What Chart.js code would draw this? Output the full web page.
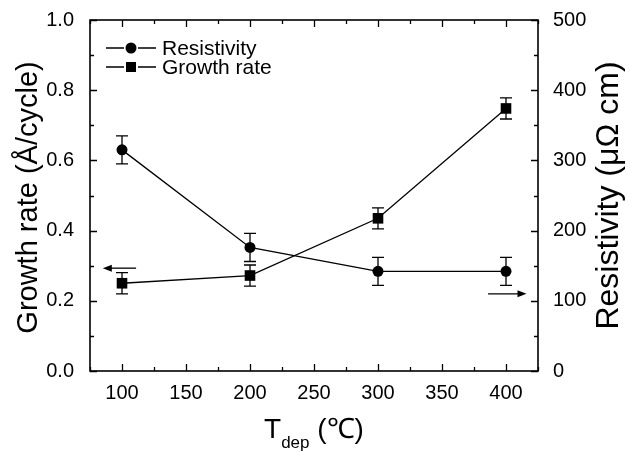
<!DOCTYPE html>
<html>
<head>
<meta charset="utf-8">
<script src="https://cdn.jsdelivr.net/npm/chart.js@4.4.1/dist/chart.umd.min.js"></script>
<style>
  html, body { margin: 0; padding: 0; background: #fff; }
  #wrap { width: 632px; height: 453px; }
</style>
</head>
<body>
<div id="wrap"><canvas id="chart" width="632" height="453"></canvas></div>
<script>
// Deposition temperature vs growth rate / resistivity
const temps = [100, 200, 300, 400];
const growthRate = [0.25, 0.272, 0.435, 0.748];
const growthErr = [0.03, 0.03, 0.03, 0.03];
const resistivity = [315, 176, 142, 142];
const resistErr = [20, 20, 20, 20];
const xTickLabels = [100, 150, 200, 250, 300, 350, 400];
const yTickLabels = ['0.0', '0.2', '0.4', '0.6', '0.8', '1.0'];
const y2TickLabels = ['0', '100', '200', '300', '400', '500'];

const FONT = "'Liberation Sans', Arial, Helvetica, sans-serif";

// error bars, frame, inner ticks, arrows, legend and titles
const decorPlugin = {
    id: 'decor',
    beforeDatasetsDraw(chart) {
        const ctx = chart.ctx;
        const x = chart.scales.x;
        ctx.save();
        ctx.strokeStyle = '#000';
        ctx.lineWidth = 1.3;
        const bars = [
            { vals: growthRate, err: growthErr, scale: chart.scales.y },
            { vals: resistivity, err: resistErr, scale: chart.scales.y2 }
        ];
        bars.forEach(b => {
            temps.forEach((t, i) => {
                const px = x.getPixelForValue(t);
                const top = b.scale.getPixelForValue(b.vals[i] + b.err[i]);
                const bot = b.scale.getPixelForValue(b.vals[i] - b.err[i]);
                ctx.beginPath();
                ctx.moveTo(px, top); ctx.lineTo(px, bot);
                ctx.moveTo(px - 6, top); ctx.lineTo(px + 6, top);
                ctx.moveTo(px - 6, bot); ctx.lineTo(px + 6, bot);
                ctx.stroke();
            });
        });
        ctx.restore();
    },
    afterDraw(chart) {
        const ctx = chart.ctx;
        const a = chart.chartArea;
        const xs = chart.scales.x, ys = chart.scales.y, y2s = chart.scales.y2;
        ctx.save();
        ctx.strokeStyle = '#000';
        ctx.fillStyle = '#000';

        // frame
        ctx.lineWidth = 1.6;
        ctx.strokeRect(a.left, a.top, a.right - a.left, a.bottom - a.top);

        // inner ticks
        ctx.lineWidth = 1.3;
        ctx.beginPath();
        for (let v = 75; v <= 425; v += 25) {
            const px = Math.round(xs.getPixelForValue(v)) + 0.5;
            const len = v % 50 === 0 ? 7 : 4;
            ctx.moveTo(px, a.bottom); ctx.lineTo(px, a.bottom - len);
            ctx.moveTo(px, a.top); ctx.lineTo(px, a.top + len);
        }
        for (let k = 0; k <= 10; k++) {
            const py = Math.round(ys.getPixelForValue(k / 10)) + 0.5;
            const len = k % 2 === 0 ? 7 : 4;
            ctx.moveTo(a.left, py); ctx.lineTo(a.left + len, py);
        }
        for (let k = 0; k <= 10; k++) {
            const py = Math.round(y2s.getPixelForValue(k * 50)) + 0.5;
            const len = k % 2 === 0 ? 7 : 4;
            ctx.moveTo(a.right, py); ctx.lineTo(a.right - len, py);
        }
        ctx.stroke();

        // axis arrows
        function arrow(x1, x2, py) {
            const p1 = xs.getPixelForValue(x1), p2 = xs.getPixelForValue(x2);
            const dir = Math.sign(p2 - p1);
            ctx.lineWidth = 1.3;
            ctx.beginPath();
            ctx.moveTo(p1, py); ctx.lineTo(p2 - dir * 6, py);
            ctx.stroke();
            ctx.beginPath();
            ctx.moveTo(p2, py);
            ctx.lineTo(p2 - dir * 9, py - 3.5);
            ctx.lineTo(p2 - dir * 9, py + 3.5);
            ctx.closePath();
            ctx.fill();
        }
        arrow(111, 85, ys.getPixelForValue(0.293));
        arrow(386, 416, y2s.getPixelForValue(110));

        // legend
        const rows = [
            { label: 'Resistivity', style: 'circle', y: a.top + 28 },
            { label: 'Growth rate', style: 'rect', y: a.top + 47 }
        ];
        ctx.font = '21px ' + FONT;
        ctx.textBaseline = 'middle';
        ctx.textAlign = 'left';
        rows.forEach(r => {
            const mx = a.left + 41;
            ctx.lineWidth = 1.3;
            ctx.beginPath();
            ctx.moveTo(a.left + 16, r.y); ctx.lineTo(mx - 7, r.y);
            ctx.moveTo(mx + 7, r.y); ctx.lineTo(a.left + 66, r.y);
            ctx.stroke();
            ctx.beginPath();
            if (r.style === 'circle') ctx.arc(mx, r.y, 5.5, 0, Math.PI * 2);
            else ctx.rect(mx - 5, r.y - 5, 10, 10);
            ctx.fill();
            ctx.fillText(r.label, a.left + 72, r.y + 1);
        });

        // axis titles
        ctx.textAlign = 'center';
        ctx.textBaseline = 'middle';
        const midY = (a.top + a.bottom) / 2;
        ctx.save();
        ctx.font = '29px ' + FONT;
        ctx.translate(29, midY + 2);
        ctx.rotate(-Math.PI / 2);
        ctx.fillText('Growth rate (Å/cycle)', 0, 0);
        ctx.restore();
        ctx.save();
        ctx.font = '32px ' + FONT;
        ctx.translate(609, midY);
        ctx.rotate(-Math.PI / 2);
        ctx.fillText('Resistivity (μΩ cm)', 0, 0);
        ctx.restore();

        // x title with subscript
        ctx.textAlign = 'left';
        ctx.textBaseline = 'alphabetic';
        const big = '28px ' + FONT, small = '17px ' + FONT;
        ctx.font = big; const wT = ctx.measureText('T').width;
        ctx.font = small; const wSub = ctx.measureText('dep').width;
        ctx.font = big; const wRest = ctx.measureText(' (℃)').width;
        let sx = (a.left + a.right) / 2 - (wT + wSub + wRest) / 2;
        const base = 438;
        ctx.font = big; ctx.fillText('T', sx, base); sx += wT;
        ctx.font = small; ctx.fillText('dep', sx, base + 10); sx += wSub;
        ctx.font = big; ctx.fillText(' (℃)', sx, base);
        ctx.restore();
    }
};

const ctx = document.getElementById('chart').getContext('2d');
new Chart(ctx, {
    type: 'line',
    data: {
        datasets: [{
            label: 'Resistivity',
            data: temps.map((t, i) => ({ x: t, y: resistivity[i] })),
            yAxisID: 'y2',
            borderColor: '#000',
            backgroundColor: '#000',
            borderWidth: 1.3,
            pointStyle: 'circle',
            pointRadius: 5.5,
            pointBorderWidth: 0,
            tension: 0
        }, {
            label: 'Growth rate',
            data: temps.map((t, i) => ({ x: t, y: growthRate[i] })),
            yAxisID: 'y',
            borderColor: '#000',
            backgroundColor: '#000',
            borderWidth: 1.3,
            pointStyle: 'rect',
            pointRadius: 7.5,
            pointBorderWidth: 0,
            tension: 0
        }]
    },
    options: {
        responsive: false,
        animation: false,
        layout: { padding: { top: 16, left: 0, right: 0, bottom: 0 } },
        plugins: {
            legend: { display: false },
            tooltip: { enabled: false }
        },
        scales: {
            x: {
                type: 'linear',
                min: 75,
                max: 425,
                afterBuildTicks: axis => { axis.ticks = xTickLabels.map(v => ({ value: v })); },
                afterFit: axis => { axis.height = 82; },
                grid: { display: false },
                border: { display: false },
                ticks: {
                    color: '#000',
                    padding: 2,
                    maxRotation: 0,
                    font: { family: FONT, size: 20 },
                    callback: v => String(v)
                }
            },
            y: {
                position: 'left',
                min: 0,
                max: 1,
                afterBuildTicks: axis => { axis.ticks = yTickLabels.map(s => ({ value: parseFloat(s) })); },
                afterFit: axis => { axis.width = 90; },
                grid: { display: false },
                border: { display: false },
                ticks: {
                    color: '#000',
                    padding: 8,
                    font: { family: FONT, size: 20 },
                    callback: (v, i) => yTickLabels[i]
                }
            },
            y2: {
                position: 'right',
                min: 0,
                max: 500,
                afterBuildTicks: axis => { axis.ticks = y2TickLabels.map(s => ({ value: parseFloat(s) })); },
                afterFit: axis => { axis.width = 94; },
                grid: { display: false },
                border: { display: false },
                ticks: {
                    color: '#000',
                    padding: 7,
                    font: { family: FONT, size: 20 },
                    callback: (v, i) => y2TickLabels[i]
                }
            }
        }
    },
    plugins: [decorPlugin]
});
</script>
</body>
</html>
